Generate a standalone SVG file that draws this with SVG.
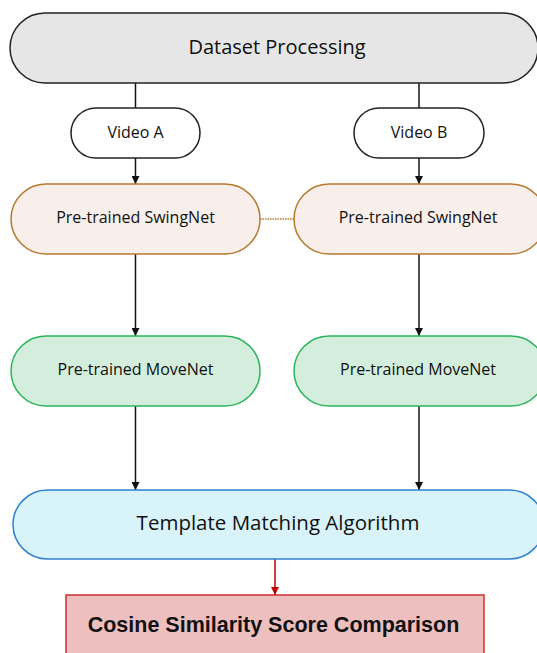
<svg xmlns="http://www.w3.org/2000/svg" width="537" height="653" viewBox="0 0 537 653">
<defs>
<style>
.t{font-family:"Open Sans","DejaVu Sans",sans-serif;font-weight:500;fill:#111;text-anchor:middle;dominant-baseline:central}
.c{stroke:#111;stroke-width:1.5;fill:none}
</style>
<marker id="ah" viewBox="0 0 10 10" refX="10" refY="5" markerWidth="8" markerHeight="8" markerUnits="userSpaceOnUse" orient="auto"><path d="M0,0L10,5L0,10z" fill="#111"/></marker>
<marker id="ahr" viewBox="0 0 10 10" refX="10" refY="5" markerWidth="8" markerHeight="8" markerUnits="userSpaceOnUse" orient="auto"><path d="M0,0L10,5L0,10z" fill="#c00000"/></marker>
</defs>
<rect width="537" height="653" fill="#fff"/>
<g id="connectors">
<line class="c" x1="135.5" y1="83" x2="135.5" y2="108"/>
<line class="c" x1="419" y1="83" x2="419" y2="108"/>
<line class="c" x1="135.5" y1="158" x2="135.5" y2="184" marker-end="url(#ah)"/>
<line class="c" x1="419" y1="158" x2="419" y2="184" marker-end="url(#ah)"/>
<line class="c" x1="135.5" y1="254" x2="135.5" y2="336" marker-end="url(#ah)"/>
<line class="c" x1="419" y1="254" x2="419" y2="336" marker-end="url(#ah)"/>
<line class="c" x1="135.5" y1="406" x2="135.5" y2="490" marker-end="url(#ah)"/>
<line class="c" x1="419" y1="406" x2="419" y2="490" marker-end="url(#ah)"/>
<line x1="260" y1="219" x2="294" y2="219" stroke="#b57a2e" stroke-width="1.5" stroke-dasharray="1.5,1"/>
<line x1="275" y1="559" x2="275" y2="595" stroke="#c00000" stroke-width="1.5" marker-end="url(#ahr)"/>
</g>
<g id="dataset">
<rect x="10" y="13" width="528" height="70" rx="35" fill="#e6e6e6" stroke="#222" stroke-width="1.5"/>
<text class="t" x="277" y="46" font-size="20">Dataset Processing</text>
</g>
<g id="videoA">
<rect x="71" y="108" width="129" height="50" rx="25" fill="#fff" stroke="#222" stroke-width="1.5"/>
<text class="t" x="135.5" y="132" font-size="16">Video A</text>
</g>
<g id="videoB">
<rect x="354" y="108" width="130" height="50" rx="25" fill="#fff" stroke="#222" stroke-width="1.5"/>
<text class="t" x="419" y="132" font-size="16">Video B</text>
</g>
<g id="swingA">
<rect x="11" y="184" width="249" height="70" rx="35" fill="#f8efeb" stroke="#b57a2e" stroke-width="1.5"/>
<text class="t" x="135.5" y="217" font-size="16">Pre-trained SwingNet</text>
</g>
<g id="swingB">
<rect x="294" y="184" width="252" height="70" rx="35" fill="#f8efeb" stroke="#b57a2e" stroke-width="1.5"/>
<text class="t" x="418" y="217" font-size="16">Pre-trained SwingNet</text>
</g>
<g id="moveA">
<rect x="11" y="336" width="249" height="70" rx="35" fill="#d4eedd" stroke="#2bb55a" stroke-width="1.5"/>
<text class="t" x="135.5" y="369" font-size="16">Pre-trained MoveNet</text>
</g>
<g id="moveB">
<rect x="294" y="336" width="252" height="70" rx="35" fill="#d4eedd" stroke="#2bb55a" stroke-width="1.5"/>
<text class="t" x="418" y="369" font-size="16">Pre-trained MoveNet</text>
</g>
<g id="template">
<rect x="13" y="490" width="531" height="69" rx="34.5" fill="#d8f3fa" stroke="#2f80d0" stroke-width="1.5"/>
<text class="t" x="278" y="522" font-size="20.5">Template Matching Algorithm</text>
</g>
<g id="cosine">
<rect x="66" y="595" width="418" height="70" fill="#eebfbf" stroke="#d03030" stroke-width="1.5"/>
<text x="273.5" y="625" font-family="'Liberation Sans',Arial,sans-serif" font-weight="bold" font-size="21.5" fill="#111" text-anchor="middle" dominant-baseline="central">Cosine Similarity Score Comparison</text>
</g>
</svg>
